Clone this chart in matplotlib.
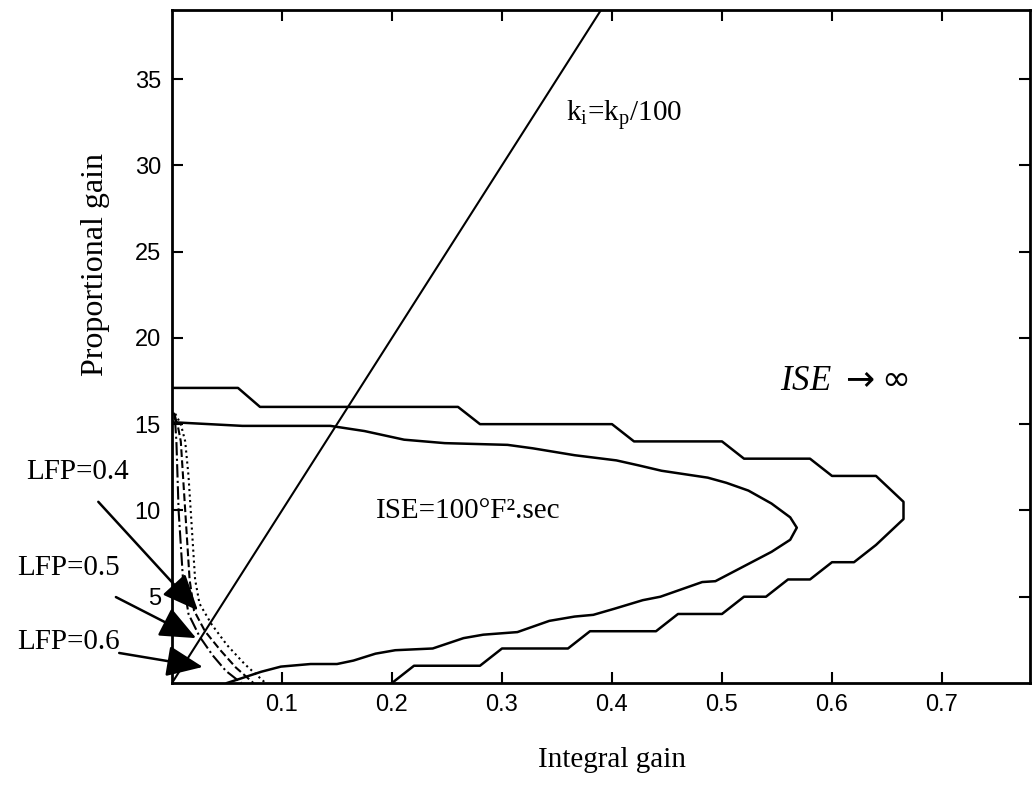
import matplotlib
matplotlib.use("Agg")
import matplotlib.pyplot as plt

# ISE contours (integral gain, proportional gain)
outer_ki = [0.0, 0.06, 0.08, 0.26, 0.28, 0.40, 0.42, 0.50, 0.52, 0.58, 0.60, 0.64,
            0.665, 0.665, 0.64, 0.62, 0.60, 0.58, 0.56, 0.54, 0.52, 0.50, 0.46,
            0.44, 0.38, 0.36, 0.30, 0.28, 0.22, 0.20]
outer_kp = [17.1, 17.1, 16.0, 16.0, 15.0, 15.0, 14.0, 14.0, 13.0, 13.0, 12.0, 12.0,
            10.5, 9.5, 8.0, 7.0, 7.0, 6.0, 6.0, 5.0, 5.0, 4.0, 4.0,
            3.0, 3.0, 2.0, 2.0, 1.0, 1.0, 0.0]

inner_ki = [0.0, 0.002, 0.004, 0.064, 0.144, 0.175, 0.211, 0.248, 0.305, 0.328,
            0.366, 0.404, 0.425, 0.445, 0.487, 0.504, 0.524, 0.545, 0.562, 0.568,
            0.562, 0.545, 0.524, 0.494, 0.482, 0.444, 0.428, 0.402, 0.383, 0.366,
            0.343, 0.314, 0.283, 0.265, 0.237, 0.203, 0.185, 0.165, 0.150, 0.126,
            0.099, 0.081, 0.063, 0.050]
inner_kp = [15.6, 15.6, 15.1, 14.9, 14.9, 14.6, 14.1, 13.9, 13.8, 13.6,
            13.2, 12.9, 12.6, 12.3, 11.9, 11.6, 11.15, 10.4, 9.6, 9.0,
            8.3, 7.6, 6.9, 5.9, 5.85, 5.0, 4.8, 4.3, 3.95, 3.85,
            3.6, 2.95, 2.8, 2.6, 2.0, 1.9, 1.7, 1.3, 1.1, 1.1,
            0.95, 0.65, 0.27, 0.0]

# ki = kp/100 line
line_ki = [0.0, 0.39]
line_kp = [0.0, 39.0]

# LFP curves
lfp_labels = ["LFP=0.4", "LFP=0.5", "LFP=0.6"]
lfp_ki = [
    [0.003, 0.008, 0.012, 0.015, 0.017, 0.019, 0.021, 0.025, 0.036, 0.050, 0.066, 0.085],
    [0.002, 0.005, 0.008, 0.010, 0.012, 0.014, 0.016, 0.020, 0.030, 0.044, 0.058, 0.074],
    [0.001, 0.003, 0.004, 0.005, 0.006, 0.008, 0.010, 0.015, 0.025, 0.037, 0.049, 0.063],
]
lfp_kp = [
    [15.6, 15.0, 14.0, 12.0, 10.0, 8.0, 6.0, 4.6, 3.4, 2.2, 1.1, 0.0],
    [15.4, 15.0, 14.0, 12.0, 10.0, 8.0, 6.0, 4.2, 3.0, 1.9, 0.9, 0.0],
    [15.2, 15.0, 14.0, 12.0, 10.0, 8.0, 6.0, 4.0, 2.7, 1.6, 0.7, 0.0],
]
lfp_styles = [":", "--", "-."]
# label position, arrow start, arrow tip
lfp_text = [(-0.086, 12.2), (-0.094, 6.66), (-0.094, 2.37)]
lfp_from = [(-0.067, 10.5), (-0.051, 4.98), (-0.048, 1.74)]
lfp_to = [(0.0236, 4.2), (0.022, 2.6), (0.028, 0.93)]

serif = "Liberation Serif"
sans = "Liberation Sans"

fig = plt.figure(figsize=(10.32, 8.08), dpi=100)
ax = fig.add_axes([172 / 1032, 125 / 808, 858 / 1032, 673 / 808])

ax.plot(outer_ki, outer_kp, color="black", lw=1.8)
ax.plot(inner_ki, inner_kp, color="black", lw=1.8)
ax.plot(line_ki, line_kp, color="black", lw=1.5)
for xs, ys, ls in zip(lfp_ki, lfp_kp, lfp_styles):
    ax.plot(xs, ys, color="black", lw=1.5, ls=ls)

for lab, tp, fp, ap in zip(lfp_labels, lfp_text, lfp_from, lfp_to):
    ax.text(tp[0], tp[1], lab, family=serif, fontsize=21, ha="center",
            va="center", clip_on=False)
    ax.annotate("", xy=ap, xytext=fp, annotation_clip=False,
                arrowprops=dict(arrowstyle="-|>,head_length=1.4,head_width=0.6",
                                color="black", lw=1.8, mutation_scale=16,
                                shrinkA=0, shrinkB=0))

ax.text(0.358, 32.9, r"k$_\mathregular{i}$=k$_\mathregular{p}$/100", family=serif,
        fontsize=21, ha="left", va="center")
ax.text(0.185, 9.94, "ISE=100°F².sec", family=serif, fontsize=21,
        ha="left", va="center")
ax.text(0.67, 17.5, r"ISE $\rightarrow\infty$", family=serif, style="italic",
        fontsize=25, ha="right", va="center")

ax.set_xlim(0, 0.78)
ax.set_ylim(0, 39)
ax.set_xticks([0.1, 0.2, 0.3, 0.4, 0.5, 0.6, 0.7])
ax.set_yticks([5, 10, 15, 20, 25, 30, 35])
ax.tick_params(direction="in", top=True, right=True, length=8, width=1.5,
               labelsize=17, pad=8)
for lab in ax.get_xticklabels() + ax.get_yticklabels():
    lab.set_family(sans)
for sp in ax.spines.values():
    sp.set_linewidth(2)

fig.text(95 / 1032, 1 - 265 / 808, "Proportional gain", family=serif, fontsize=23,
         rotation=90, ha="center", va="center")
fig.text(612 / 1032, 1 - 760 / 808, "Integral gain", family=serif, fontsize=21,
         ha="center", va="center")

fig.savefig("out.png", dpi=100)
